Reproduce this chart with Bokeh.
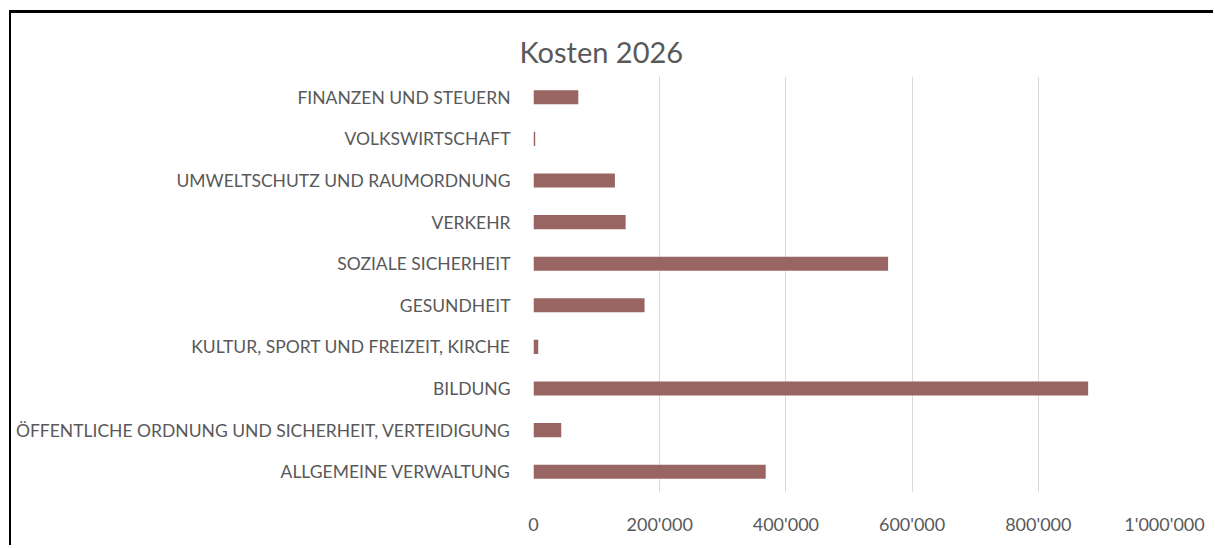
from bokeh.plotting import figure
from bokeh.models import FactorRange, Range1d, SingleIntervalTicker, CustomJSTickFormatter, ColumnDataSource
from bokeh.embed import file_html
from bokeh.resources import INLINE

categories = [
    "ALLGEMEINE VERWALTUNG",
    "ÖFFENTLICHE ORDNUNG UND SICHERHEIT, VERTEIDIGUNG",
    "BILDUNG",
    "KULTUR, SPORT UND FREIZEIT, KIRCHE",
    "GESUNDHEIT",
    "SOZIALE SICHERHEIT",
    "VERKEHR",
    "UMWELTSCHUTZ UND RAUMORDNUNG",
    "VOLKSWIRTSCHAFT",
    "FINANZEN UND STEUERN",
]
values = [368000, 44000, 879000, 7500, 176000, 562000, 146000, 129000, 2700, 71000]
title_text = "Kosten 2026"

src = ColumnDataSource(dict(cat=categories, val=values))

FONT = "Lato"
p = figure(
    width=1204, height=535,
    y_range=FactorRange(*categories),
    x_range=Range1d(0, 1000000),
    output_backend="svg", toolbar_location=None,
    min_border_left=522, min_border_right=51,
    min_border_top=63, min_border_bottom=56,
    styles={"margin-top": "10px", "margin-left": "9px",
            "border-top": "3px solid #000", "border-left": "2px solid #000"},
)
p.hbar(y="cat", right="val", left=0, height=0.34, source=src,
       fill_color="#986563", line_color=None)

p.title.text = title_text
p.title.text_font = FONT
p.title.text_font_size = "29px"
p.title.text_font_style = "normal"
p.title.text_color = "#595959"
p.title.align = "left"
p.title.offset = -14
p.title.standoff = 16

p.outline_line_color = None
p.background_fill_color = "white"
p.border_fill_color = "white"

p.xaxis.ticker = SingleIntervalTicker(interval=200000)
p.xaxis.formatter = CustomJSTickFormatter(code="""
return Math.round(tick).toString().replace(/\\B(?=(\\d{3})+(?!\\d))/g, "'");
""")
for ax in (p.xaxis[0], p.yaxis[0]):
    ax.axis_line_color = None
    ax.major_tick_line_color = None
    ax.minor_tick_line_color = None
    ax.major_label_text_font = FONT
    ax.major_label_text_color = "#595959"
p.xaxis.major_label_text_font_size = "18px"
p.yaxis.major_label_text_font_size = "17.5px"
p.xaxis.major_label_standoff = 14
p.yaxis.major_label_standoff = 17

p.xgrid.ticker = SingleIntervalTicker(interval=200000)
p.xgrid.grid_line_color = "#D9D9D9"
p.ygrid.grid_line_color = None

open("out.html", "w").write(file_html(p, INLINE))
